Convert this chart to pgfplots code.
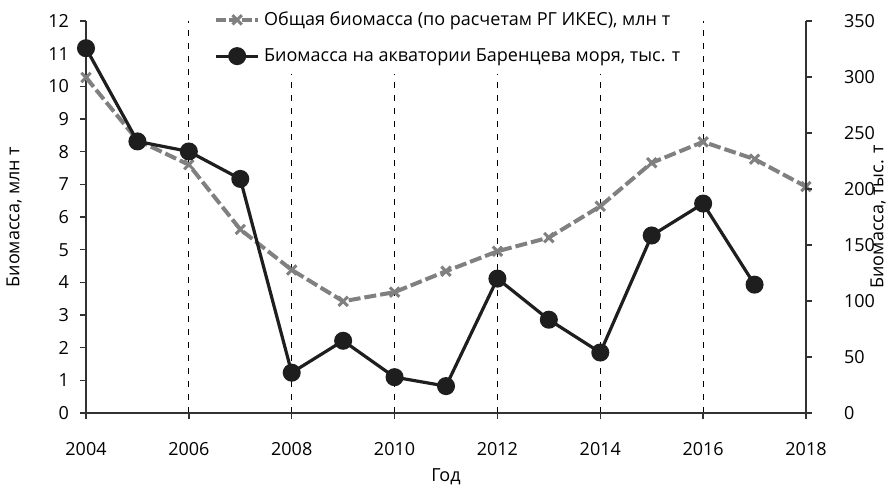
\documentclass[border=0pt]{standalone}
\usepackage{fontspec}
\setmainfont{Open Sans}
\usepackage{pgfplots}
\pgfplotsset{compat=1.18}
\definecolor{serA}{RGB}{128,128,128}
\definecolor{serB}{RGB}{30,30,30}
\definecolor{axc}{RGB}{50,50,50}
\begin{document}
\begin{tikzpicture}
\pgfplotsset{
  every axis/.append style={
    scale only axis, width=360pt, height=196pt,
    xmin=2004, xmax=2018,
    /pgf/number format/assume math mode=true,
    tick label style={font=\fontsize{9}{11}\selectfont},
    label style={font=\fontsize{9}{11}\selectfont},
    axis line style={axc, line width=0.7pt},
    tick style={axc, line width=0.7pt},
  }
}
\begin{axis}[
  axis y line*=left, axis x line*=bottom,
  ymin=0, ymax=12, ytick={0,1,...,12},
  xtick={2004,2006,...,2018},
  /pgf/number format/1000 sep={},
  xticklabel style={yshift=-8pt},
  yticklabel style={xshift=-2pt},
  tick align=outside, major tick length=3pt,
  xmajorgrids, grid style={black, line width=0.5pt, dash pattern=on 3pt off 3.5pt},
  ylabel={Биомасса, млн т}, ylabel style={yshift=6.5pt},
  xlabel={Год}, xlabel style={yshift=0pt},
]
\addplot[serA, line width=2pt, dash pattern=on 6pt off 2pt, mark=x, mark size=3.3pt, mark options={solid, line width=1.5pt}] coordinates {
(2004,10.27) (2005,8.35) (2006,7.6) (2007,5.62) (2008,4.38) (2009,3.42) (2010,3.7) (2011,4.34) (2012,4.95) (2013,5.37) (2014,6.33) (2015,7.66) (2016,8.3) (2017,7.77) (2018,6.93)};
\end{axis}
\begin{axis}[
  axis y line*=right, axis x line=none,
  ymin=0, ymax=350, ytick={0,50,...,350},
  yticklabel style={xshift=12.5pt},
  tick align=outside, major tick length=3pt,
  ylabel={Биомасса, тыс. т},
  ylabel style={at={(rel axis cs:1,0.5)}, anchor=center, yshift=-36pt},
  legend style={at={(rel axis cs:0.158,1)}, anchor=north west, xshift=4pt, yshift=10pt, draw=none, fill=white,
    font=\fontsize{9}{11}\selectfont, row sep=6pt, inner xsep=3pt, inner ysep=3pt},
  legend image code/.code={
    \draw[mark repeat=2,mark phase=2,#1] plot coordinates {(0pt,0pt) (10.5pt,0pt) (21pt,0pt)};},
  legend cell align=left,
]
\addlegendimage{serA, line width=2pt, dash pattern=on 5pt off 1.5pt, mark=x, mark size=3.3pt, mark options={solid, line width=1.5pt}}
\addlegendentry{Общая биомасса (по расчетам РГ ИКЕС), млн т}
\addplot[serB, line width=1.6pt, mark=*, mark size=3.7pt, mark options={fill=serB}] coordinates {
(2004,325.7) (2005,242.5) (2006,233.5) (2007,209) (2008,36) (2009,64.5) (2010,32) (2011,24) (2012,120) (2013,83.3) (2014,54) (2015,158.5) (2016,187) (2017,114.6)};
\addlegendentry{Биомасса на акватории Баренцева моря, тыс. т}
\end{axis}
\pgfresetboundingbox
\path ([xshift=-43pt,yshift=-40pt]current axis.south west) rectangle ([xshift=45pt,yshift=10.5pt]current axis.north east);
\end{tikzpicture}
\end{document}
